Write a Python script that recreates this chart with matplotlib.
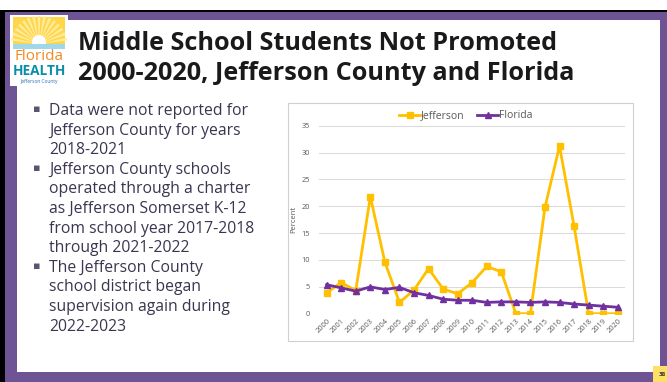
import numpy as np
import matplotlib.pyplot as plt
from matplotlib.patches import Rectangle, Wedge, Circle

years = list(range(2000, 2021))
jefferson = [3.9, 5.8, 4.3, 21.8, 9.6, 2.1, 4.4, 8.4, 4.6, 3.7, 5.8,
             8.8, 7.8, 0, 0, 19.8, 31.2, 16.3, 0, 0, 0]
florida = [5.4, 4.8, 4.2, 5.0, 4.5, 4.9, 3.9, 3.4, 2.7, 2.5, 2.5,
           2.1, 2.2, 2.2, 2.1, 2.2, 2.1, 1.8, 1.6, 1.4, 1.2]

title_lines = ["Middle School Students Not Promoted",
               "2000-2020, Jefferson County and Florida"]
bullets = [
    ["Data were not reported for", "Jefferson County for years", "2018-2021"],
    ["Jefferson County schools", "operated through a charter",
     "as Jefferson Somerset K-12", "from school year 2017-2018",
     "through 2021-2022"],
    ["The Jefferson County", "school district began",
     "supervision again during", "2022-2023"],
]

W, H = 667, 382
purple = '#6e5494'
gold = '#ffc000'
violet = '#7030a0'

fig = plt.figure(figsize=(W / 100, H / 100), dpi=100)
plt.rcParams['font.family'] = ['Open Sans', 'DejaVu Sans']


def fx(x):
    return x / W


def fy(y):
    return 1 - y / H


def rect(x0, y0, x1, y1, **kw):
    fig.patches.append(Rectangle((fx(x0), fy(y1)), fx(x1) - fx(x0), fy(y0) - fy(y1),
                                 transform=fig.transFigure, **kw))


# slide frame
rect(0, 0, W, H, facecolor='black', edgecolor='none', zorder=0)
rect(5, 12, 667, 382, facecolor=purple, edgecolor='none', zorder=0)
rect(17, 20, 660, 372, facecolor='white', edgecolor='none', zorder=0)
rect(0, 0, W, 10, facecolor='white', edgecolor='none', zorder=0)
rect(653, 366, 667, 382, facecolor='#ffe066', edgecolor='none', zorder=1)
fig.text(fx(659), fy(374), "38", fontsize=4.5, fontweight='bold', color='#333333',
         ha='left', va='center')

# logo (drawn in pixel units)
lg = fig.add_axes([fx(10), fy(86), fx(68) - fx(10), fy(15) - fy(86)])
lg.set_zorder(3)
lg.set_xlim(10, 68)
lg.set_ylim(86, 15)
lg.axis('off')
lg.add_patch(Rectangle((10, 15), 58, 71, facecolor='white', edgecolor='none'))
lg.add_patch(Rectangle((13, 17), 52, 30, facecolor='#ffd54a', edgecolor='none'))
for a in np.linspace(190, 350, 15):
    lg.add_patch(Wedge((39, 44), 28, a - 3, a + 3, facecolor='#ffeb99', edgecolor='none'))
lg.add_patch(Circle((39, 42), 7, facecolor='white', edgecolor='none'))
lg.add_patch(Rectangle((13, 44), 52, 5, facecolor='#9fd8e8', edgecolor='none'))
lg.text(39, 57, "Florida", color='#f08a24', fontsize=11, ha='center', va='center')
lg.text(39, 71, "HEALTH", color='#0b8fa8', fontsize=9.8, fontweight='bold',
        ha='center', va='center')
lg.text(39, 81.5, "Jefferson County", color='#2f6db5', fontsize=3.5, ha='center', va='center')

# title
for i, line in enumerate(title_lines):
    fig.text(fx(78), fy(43 + 30 * i), line, fontsize=18.2, fontweight='bold',
             color='#1a1a1a', ha='left', va='center')

# bullets
yy = 115
for group in bullets:
    fig.text(fx(37), fy(yy - 5), "\u25aa", fontsize=8, color='#5a5470', ha='center', va='center')
    for line in group:
        fig.text(fx(49), fy(yy), line, fontsize=11.3, color='#3d3550',
                 ha='left', va='baseline')
        yy += 19.6

# chart box
rect(288, 103, 633, 341, facecolor='white', edgecolor='#d0d0d0', linewidth=0.8, zorder=1)

ax = fig.add_axes([fx(319.4), fy(313.7), fx(625) - fx(319.4), fy(125.7) - fy(313.7)])
ax.set_zorder(2)
ax.patch.set_alpha(0)
ax.plot(years, jefferson, color=gold, linewidth=2, marker='s', markersize=5,
        label='Jefferson')
ax.plot(years, florida, color=violet, linewidth=2, marker='^', markersize=4.5,
        label='Florida')
ax.set_xlim(1999.5, 2020.5)
ax.set_ylim(0, 35)
ax.set_yticks(range(0, 36, 5))
ax.set_xticks(years)
ax.set_xticklabels([str(y) for y in years], rotation=45, ha='right',
                   rotation_mode='anchor', fontsize=5.3, color='#595959')
ax.tick_params(axis='y', labelsize=5.3, labelcolor='#595959', length=0, pad=7)
ax.tick_params(axis='x', length=0, pad=3)
ax.grid(axis='y', color='#d9d9d9', linewidth=0.7)
ax.set_axisbelow(True)
for s in ax.spines.values():
    s.set_visible(False)
ax.set_ylabel("Percent", fontsize=5.5, color='#595959', labelpad=3)
ax.legend(loc='center', bbox_to_anchor=(fx(466), fy(116)), bbox_transform=fig.transFigure,
          ncol=2, frameon=False, fontsize=7.5, labelcolor='#595959',
          handlelength=2.0, columnspacing=1.2, handletextpad=0.1)

fig.savefig('out.png', dpi=100)
